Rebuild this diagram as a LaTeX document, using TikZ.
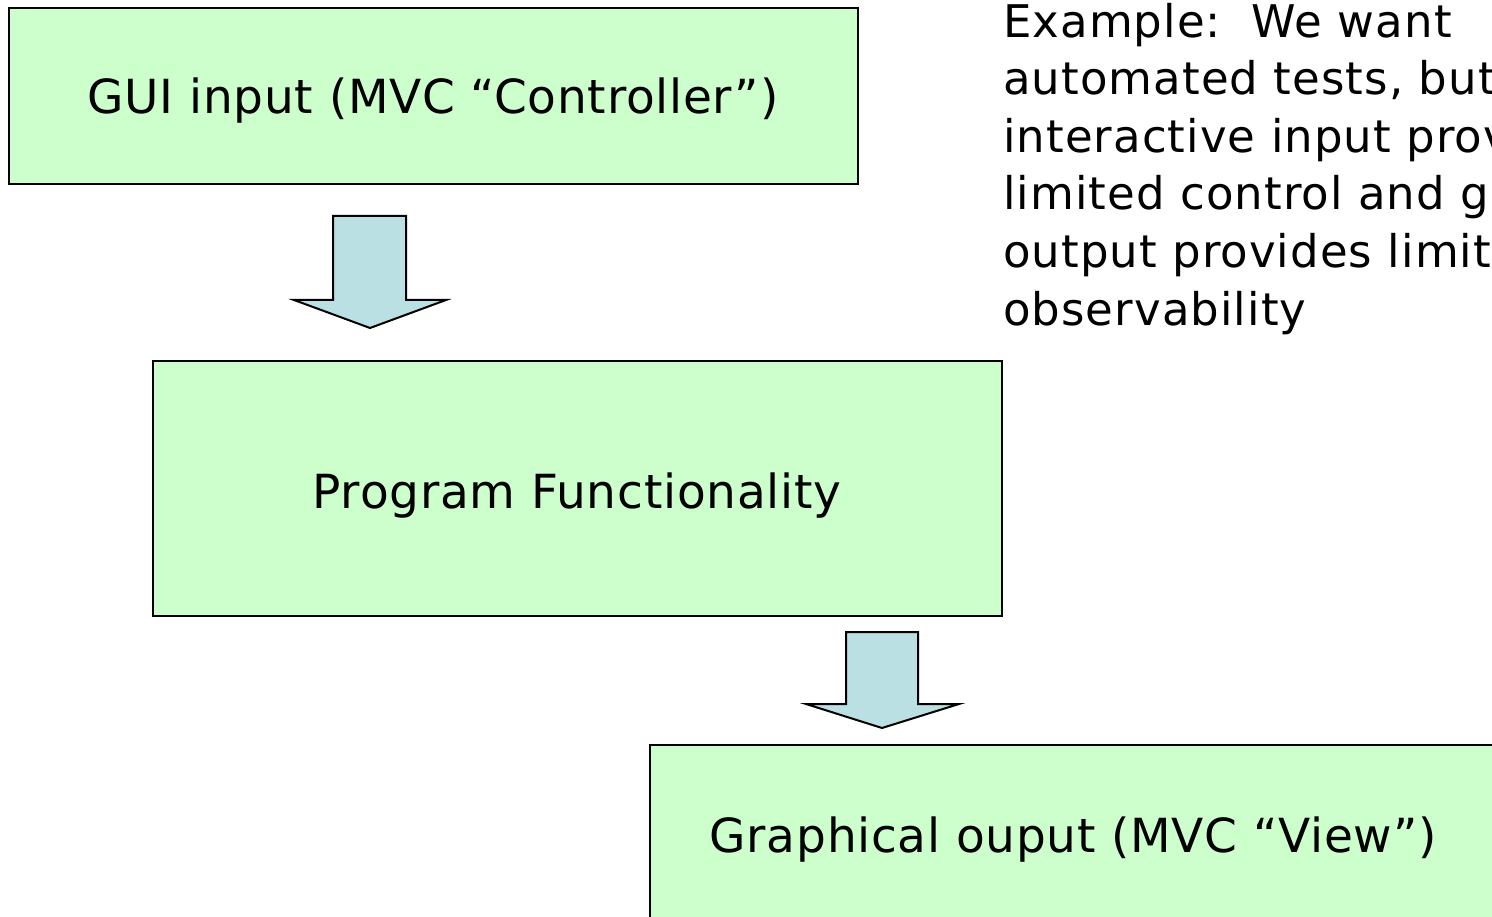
\documentclass[tikz,border=0pt]{standalone}
\usepackage{fontspec}
\setmainfont{DejaVu Sans}
\newfontfamily\boxfont{DejaVu Sans}[LetterSpace=1.6]
\newfontfamily\notefont{DejaVu Sans}[LetterSpace=2.4]
\definecolor{boxgreen}{HTML}{CCFFCC}
\definecolor{arrowblue}{HTML}{BBE0E3}
\begin{document}
\begin{tikzpicture}[x=1pt,y=-1pt,
  box/.style={draw=black,line width=2pt,fill=boxgreen},
  boxtext/.style={font=\boxfont\fontsize{47}{56}\selectfont,inner sep=0pt,anchor=base},
  blockarrow/.style={draw=black,line width=2pt,fill=arrowblue,line join=miter}]
\useasboundingbox (0,0) rectangle (1492,917);
\clip (0,0) rectangle (1492,917);
% boxes
\draw[box] (9,8) rectangle (858,184);
\node[boxtext] (gui) at (433,114) {GUI input (MVC “Controller”)};
\draw[box] (153,361) rectangle (1002,616);
\node[boxtext] (prog) at (577,508) {Program Functionality};
\draw[box] (650,745) rectangle (1499,935);
\node[boxtext] (view) at (1073,852) {Graphical ouput (MVC “View”)};
% block arrows
\draw[blockarrow] (333,216) -- (406,216) -- (406,300) -- (446,300) -- (370,328) -- (294,300) -- (333,300) -- cycle;
\draw[blockarrow] (846,632) -- (918,632) -- (918,704) -- (959,704) -- (882,728) -- (806,704) -- (846,704) -- cycle;
% side text
\node[font=\notefont\fontsize{45}{57.6}\selectfont,inner sep=0pt,anchor=north west,align=left] (note) at (1003,2.8)
  {Example:\ \ We want\\automated tests, but\\interactive input provides\\limited control and graphical\\output provides limited\\observability};
\end{tikzpicture}
\end{document}
